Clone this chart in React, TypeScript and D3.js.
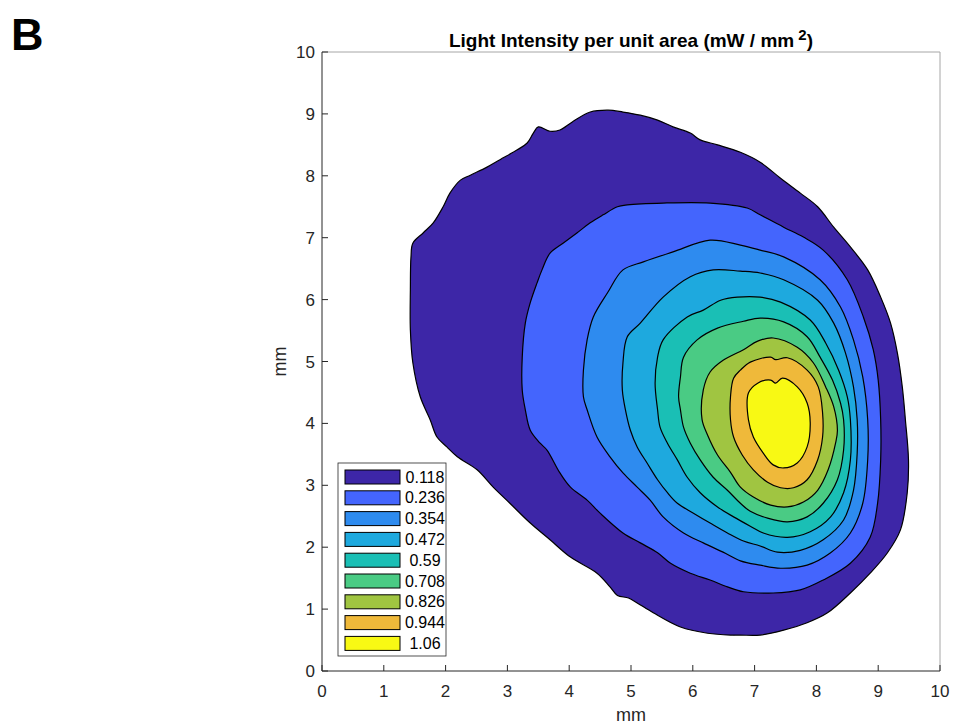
import React from 'react';
import * as d3 from 'd3';

// ---- data (mm coordinates of each filled-contour boundary) ----
const levelLabels = ['0.118', '0.236', '0.354', '0.472', '0.59', '0.708', '0.826', '0.944', '1.06'];
const levelColors = ['#3D26A7', '#4465FD', '#2E8BEF', '#1EA9DE', '#1ABFB5', '#4ACB84', '#A0C541', '#EFB93A', '#F8F914'];
const xTicks = [0, 1, 2, 3, 4, 5, 6, 7, 8, 9, 10];
const yTicks = [0, 1, 2, 3, 4, 5, 6, 7, 8, 9, 10];

type P = [number, number];

const contour0118: P[] = [
  [4.63, 9.06], [4.87, 9.03], [5.15, 8.98], [5.43, 8.9], [5.68, 8.79], [5.96, 8.69], [6.12, 8.58],
  [6.4, 8.5], [6.77, 8.38], [7.09, 8.22], [7.42, 7.96], [7.74, 7.72], [8.02, 7.5], [8.28, 7.17],
  [8.55, 6.85], [8.83, 6.48], [9.04, 6.04], [9.2, 5.62], [9.31, 5.14], [9.39, 4.59], [9.44, 4.06],
  [9.49, 3.41], [9.47, 2.88], [9.36, 2.28], [9.15, 1.91], [8.87, 1.58], [8.55, 1.26], [8.18, 0.94],
  [7.85, 0.78], [7.47, 0.66], [7.09, 0.58], [6.77, 0.58], [6.61, 0.58], [6.24, 0.61], [5.8, 0.71],
  [5.36, 0.94], [5.1, 1.1], [4.96, 1.18], [4.78, 1.22], [4.66, 1.36], [4.45, 1.58], [4.02, 1.84],
  [3.69, 2.12], [3.37, 2.39], [3.04, 2.71], [2.77, 2.97], [2.51, 3.25], [2.19, 3.46], [2.02, 3.62],
  [1.86, 3.78], [1.75, 4.06], [1.59, 4.43], [1.47, 4.98], [1.43, 5.51], [1.43, 6.16], [1.44, 6.69],
  [1.47, 6.91], [1.64, 7.08], [1.8, 7.24], [1.96, 7.5], [2.07, 7.72], [2.24, 7.93], [2.4, 8.01],
  [2.67, 8.14], [2.88, 8.26], [3.16, 8.42], [3.32, 8.53], [3.42, 8.69], [3.5, 8.79], [3.69, 8.72],
  [3.85, 8.74], [4.05, 8.87], [4.34, 9.03],
];

const contour0236: P[] = [
  [4.94, 7.53], [5.52, 7.56], [6.28, 7.56], [6.88, 7.48], [7.09, 7.37], [7.47, 7.17], [7.79, 7.01],
  [8.11, 6.8], [8.5, 6.32], [8.76, 5.72], [8.92, 5.19], [9.0, 4.7], [9.04, 4.06], [9.04, 3.41],
  [8.99, 2.71], [8.87, 2.16], [8.55, 1.74], [8.11, 1.47], [7.74, 1.31], [7.3, 1.26], [6.82, 1.28],
  [6.56, 1.36], [6.28, 1.47], [5.96, 1.58], [5.64, 1.74], [5.43, 1.91], [5.15, 2.07], [4.87, 2.23],
  [4.5, 2.55], [4.29, 2.76], [4.02, 2.97], [3.85, 3.2], [3.64, 3.57], [3.53, 3.68], [3.37, 3.89],
  [3.29, 4.22], [3.24, 4.54], [3.24, 5.07], [3.29, 5.62], [3.37, 5.95], [3.48, 6.27], [3.56, 6.48],
  [3.69, 6.75], [3.9, 6.91], [4.13, 7.08], [4.34, 7.24], [4.55, 7.37], [4.78, 7.5],
];

const contour0354: P[] = [
  [4.23, 4.43], [4.23, 4.86], [4.29, 5.35], [4.39, 5.72], [4.62, 6.11], [4.87, 6.48], [5.2, 6.61],
  [5.68, 6.77], [6.28, 6.96], [6.77, 6.88], [7.09, 6.8], [7.47, 6.69], [8.06, 6.32], [8.39, 5.88],
  [8.6, 5.35], [8.75, 4.75], [8.83, 4.06], [8.83, 3.41], [8.75, 2.71], [8.55, 2.23], [8.23, 1.91],
  [7.85, 1.71], [7.42, 1.66], [7.09, 1.71], [6.77, 1.78], [6.49, 1.92], [6.17, 2.07], [5.85, 2.23],
  [5.52, 2.49], [5.31, 2.76], [5.1, 2.97], [4.87, 3.2], [4.66, 3.46], [4.45, 3.78], [4.29, 4.22],
];

const contour0472: P[] = [
  [4.86, 4.54], [4.87, 4.98], [4.94, 5.4], [5.15, 5.62], [5.52, 6.04], [5.96, 6.37], [6.33, 6.48],
  [6.77, 6.46], [7.09, 6.43], [7.47, 6.32], [8.02, 5.99], [8.28, 5.62], [8.47, 5.14], [8.6, 4.59],
  [8.66, 4.06], [8.66, 3.52], [8.6, 2.92], [8.44, 2.44], [8.11, 2.12], [7.74, 1.95], [7.37, 1.92],
  [7.09, 2.02], [6.82, 2.1], [6.56, 2.23], [6.28, 2.39], [6.01, 2.55], [5.75, 2.71], [5.59, 2.88],
  [5.43, 3.09], [5.26, 3.36], [5.1, 3.62], [4.99, 3.89], [4.91, 4.22],
];

const contour059: P[] = [
  [5.39, 4.65], [5.43, 5.07], [5.52, 5.35], [5.91, 5.72], [6.17, 5.83], [6.45, 5.99], [6.72, 6.04],
  [7.09, 6.04], [7.42, 5.96], [7.9, 5.67], [8.15, 5.3], [8.36, 4.86], [8.5, 4.43], [8.55, 4.06],
  [8.55, 3.41], [8.44, 2.88], [8.23, 2.49], [7.9, 2.25], [7.53, 2.16], [7.14, 2.23], [6.93, 2.34],
  [6.66, 2.49], [6.4, 2.65], [6.12, 2.88], [5.91, 3.13], [5.75, 3.41], [5.59, 3.68], [5.47, 3.94],
  [5.43, 4.22],
];

const contour0708: P[] = [
  [5.77, 4.43], [5.8, 4.75], [5.85, 5.07], [6.07, 5.35], [6.4, 5.54], [6.82, 5.65], [7.09, 5.7],
  [7.47, 5.64], [7.85, 5.4], [8.06, 5.07], [8.26, 4.7], [8.39, 4.33], [8.44, 4.06], [8.44, 3.57],
  [8.34, 3.09], [8.11, 2.71], [7.85, 2.49], [7.53, 2.41], [7.21, 2.47], [6.93, 2.58], [6.77, 2.71],
  [6.56, 2.92], [6.33, 3.13], [6.12, 3.41], [5.96, 3.68], [5.85, 3.94], [5.8, 4.22],
];

const contour0826: P[] = [
  [6.15, 4.06], [6.17, 4.54], [6.28, 4.83], [6.49, 5.02], [6.82, 5.19], [7.05, 5.33], [7.3, 5.38],
  [7.69, 5.23], [7.95, 4.98], [8.15, 4.59], [8.28, 4.27], [8.34, 3.89], [8.31, 3.68], [8.19, 3.25],
  [8.02, 2.92], [7.79, 2.73], [7.53, 2.65], [7.26, 2.68], [6.98, 2.81], [6.77, 2.97], [6.61, 3.21],
  [6.4, 3.49], [6.24, 3.81],
];

const contour0944: P[] = [
  [6.61, 4.06], [6.61, 4.43], [6.66, 4.73], [6.77, 4.86], [6.93, 4.99], [7.26, 5.07], [7.34, 5.03],
  [7.53, 5.06], [7.85, 4.86], [8.03, 4.59], [8.1, 4.17], [8.1, 3.78], [8.02, 3.41], [7.85, 3.09],
  [7.63, 2.96], [7.42, 2.96], [7.21, 3.05], [6.98, 3.25], [6.8, 3.49], [6.66, 3.78],
];

const contour106: P[] = [
  [6.9, 4.06], [6.9, 4.49], [7.05, 4.65], [7.26, 4.7], [7.34, 4.65], [7.45, 4.73], [7.69, 4.59],
  [7.85, 4.33], [7.9, 4.01], [7.85, 3.62], [7.69, 3.36], [7.47, 3.28], [7.3, 3.33], [7.14, 3.52],
  [6.98, 3.78],
];

const contours: P[][] = [
  contour0118, contour0236, contour0354, contour0472, contour059,
  contour0708, contour0826, contour0944, contour106,
];

// ---- layout ----
const W = 953;
const H = 726;
const left = 322;
const right = 940;
const top = 52;
const bottom = 671;
const font = 'Liberation Sans, Arial, Helvetica, sans-serif';
const axisColor = '#262626';

export default function App() {
  const x = d3.scaleLinear().domain([0, 10]).range([left, right]);
  const y = d3.scaleLinear().domain([0, 10]).range([bottom, top]);
  const line = d3
    .line<P>()
    .x((d) => x(d[0]))
    .y((d) => y(d[1]))
    .curve(d3.curveCatmullRomClosed.alpha(0.5));

  const legX = 338;
  const legY = 463;
  const legW = 108;
  const legH = 193;
  const rowH = 20.8;

  return (
    <svg
      width={W}
      height={H}
      style={{ position: 'absolute', left: 0, top: 0, background: '#fff' }}
      fontFamily={font}
    >
      <rect x={0} y={0} width={W} height={H} fill="#fff" />
      <text x={11} y={50} fontSize={45} fontWeight="bold" fill="#000">B</text>

      {/* frame top/right */}
      <line x1={left} x2={right} y1={top} y2={top} stroke="#a6a6a6" strokeWidth={1} />
      <line x1={right} x2={right} y1={top} y2={bottom} stroke="#a6a6a6" strokeWidth={1} />

      {/* contours */}
      {contours.map((c, i) => (
        <path key={i} d={line(c) || ''} fill={levelColors[i]} stroke="#000" strokeWidth={1.2} />
      ))}

      {/* axes */}
      <line x1={left} x2={right} y1={bottom} y2={bottom} stroke={axisColor} strokeWidth={1} />
      <line x1={left} x2={left} y1={top} y2={bottom} stroke={axisColor} strokeWidth={1} />
      {xTicks.map((t) => (
        <g key={'x' + t}>
          <line x1={x(t)} x2={x(t)} y1={bottom} y2={bottom - 6} stroke={axisColor} />
          <text x={x(t)} y={697} fontSize={17} textAnchor="middle" fill={axisColor}>{t}</text>
        </g>
      ))}
      {yTicks.map((t) => (
        <g key={'y' + t}>
          <line x1={left} x2={left + 6} y1={y(t)} y2={y(t)} stroke={axisColor} />
          <text x={315} y={y(t) + 6} fontSize={17} textAnchor="end" fill={axisColor}>{t}</text>
        </g>
      ))}
      <text x={(left + right) / 2} y={721} fontSize={18} textAnchor="middle" fill={axisColor}>mm</text>
      <text
        x={0}
        y={0}
        fontSize={18}
        textAnchor="middle"
        fill={axisColor}
        transform={`translate(286,${(top + bottom) / 2}) rotate(-90)`}
      >
        mm
      </text>

      {/* title */}
      <text x={(left + right) / 2} y={47} fontSize={19} fontWeight="bold" textAnchor="middle" fill="#000">
        Light Intensity per unit area (mW / mm
        <tspan dy={-7} fontSize={15}> 2</tspan>
        <tspan dy={7}>)</tspan>
      </text>

      {/* legend */}
      <rect x={legX} y={legY} width={legW} height={legH} fill="#fff" stroke={axisColor} strokeWidth={0.8} />
      {levelLabels.map((lab, i) => {
        const cy = legY + 14 + i * rowH;
        return (
          <g key={lab}>
            <rect x={345} y={cy - 7} width={55} height={14} fill={levelColors[i]} stroke="#000" strokeWidth={1} />
            <text x={425} y={cy + 5.5} fontSize={16} textAnchor="middle" fill="#000">{lab}</text>
          </g>
        );
      })}
    </svg>
  );
}
